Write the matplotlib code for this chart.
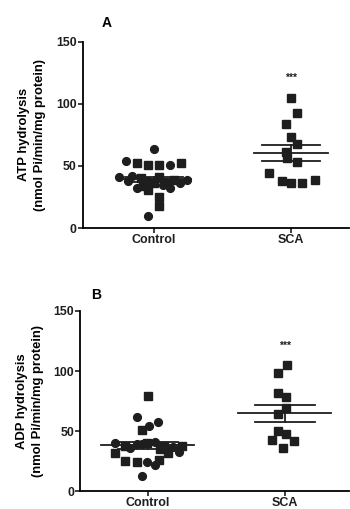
import numpy as np
import matplotlib
matplotlib.use("Agg")
import matplotlib.pyplot as plt

plt.rcParams['font.family'] = ['Liberation Sans', 'DejaVu Sans']
plt.rcParams['font.weight'] = 'bold'

categories = ["Control", "SCA"]

# Panel A: ATP hydrolysis
atp_control = [64, 54, 52, 51, 51, 51, 52, 41, 39,
               42, 40, 38, 41, 37, 39, 38, 36, 35, 34, 36,
               32, 31, 32, 25, 18, 10]
atp_control_dx = [0, -0.20, -0.12, -0.04, 0.04, 0.12, 0.20, -0.25, 0.24,
                  -0.16, -0.09, -0.04, 0.04, 0.09, 0.15, -0.19, 0.0, 0.07, -0.08, 0.19,
                  -0.12, -0.04, 0.12, 0.04, 0.04, -0.04]
atp_control_mk = ['o', 'o', 's', 's', 's', 'o', 's', 'o', 'o',
                  'o', 's', 'o', 's', 'o', 's', 'o', 's', 'o', 's', 'o',
                  'o', 's', 'o', 's', 's', 'o']
atp_sca = [105, 93, 84, 73, 68, 61, 56, 53, 44, 38, 36, 36, 39]
atp_sca_dx = [0.0, 0.04, -0.04, 0.0, 0.04, -0.04, -0.03, 0.04, -0.16, -0.07, 0.0, 0.08, 0.17]

# Panel B: ADP hydrolysis
adp_control = [79, 62, 58, 51, 54,
               40, 38, 39, 40, 41, 38, 37, 38, 36, 35, 39,
               32, 25, 24, 24, 22, 26, 32, 33, 13]
adp_control_dx = [0.0, -0.08, 0.07, -0.04, 0.01,
                  -0.24, -0.17, -0.08, -0.01, 0.05, 0.12, 0.18, 0.25, -0.13, 0.09, -0.04,
                  -0.24, -0.17, -0.08, -0.01, 0.05, 0.08, 0.15, 0.23, -0.04]
adp_control_mk = ['s', 'o', 'o', 's', 'o',
                  'o', 's', 'o', 's', 'o', 's', 'o', 's', 'o', 's', 'o',
                  's', 's', 's', 'o', 'o', 's', 's', 'o', 'o']
adp_sca = [105, 98, 82, 78, 69, 64, 50, 48, 43, 42, 36]
adp_sca_dx = [0.02, -0.05, -0.05, 0.01, 0.01, -0.05, -0.05, 0.01, -0.09, 0.07, -0.01]

yticks = [0, 50, 100, 150]
ylabels = ["ATP hydrolysis\n(nmol Pi/min/mg protein)", "ADP hydrolysis\n(nmol Pi/min/mg protein)"]
panel_letters = ["A", "B"]

fig = plt.figure(figsize=(3.5, 5.09), dpi=100)
axA = fig.add_axes([0.237, 0.552, 0.76, 0.366])
axB = fig.add_axes([0.229, 0.035, 0.768, 0.354])

col = '#1e1e1e'

def draw(ax, ctrl, ctrl_dx, ctrl_mk, sca, sca_dx, xlim, ylabel, letter, mean_w, sem_w, lx, ly):
    for v, dx, m in zip(ctrl, ctrl_dx, ctrl_mk):
        ax.plot(1 + dx, v, marker=m, ms=5.6, color=col, ls='none', mec=col)
    for v, dx in zip(sca, sca_dx):
        ax.plot(2 + dx, v, marker='s', ms=5.8, color=col, ls='none', mec=col)
    for i, data in enumerate([ctrl, sca]):
        x = i + 1
        arr = np.array(data, dtype=float)
        m = arr.mean()
        sem = arr.std(ddof=1) / np.sqrt(len(arr))
        ax.plot([x - mean_w, x + mean_w], [m, m], color=col, lw=1.3, zorder=3)
        ax.plot([x - sem_w, x + sem_w], [m + sem, m + sem], color=col, lw=1.3, zorder=3)
        ax.plot([x - sem_w, x + sem_w], [m - sem, m - sem], color=col, lw=1.3, zorder=3)
        ax.plot([x, x], [m - sem, m + sem], color=col, lw=1.3, zorder=3)
    ax.text(2, 117, "***", ha='center', va='bottom', fontsize=7.5, color=col)
    ax.set_xlim(*xlim)
    ax.set_ylim(0, 150)
    ax.set_yticks(yticks)
    ax.set_yticklabels([str(t) for t in yticks], fontsize=8.8, fontweight='bold')
    ax.set_xticks([1, 2])
    ax.set_xticklabels(categories, fontsize=9, fontweight='bold')
    ax.spines['top'].set_visible(False)
    ax.spines['right'].set_visible(False)
    ax.spines['left'].set_linewidth(1.3)
    ax.spines['bottom'].set_linewidth(1.3)
    ax.tick_params(axis='both', length=3.5, width=1.2, pad=1, colors=col)
    ax.set_ylabel(ylabel, fontsize=9.4, fontweight='bold', labelpad=7, linespacing=1.45)
    ax.text(lx, ly, letter, transform=ax.transAxes, fontsize=10, fontweight='bold',
            ha='center', va='center')

draw(axA, atp_control, atp_control_dx, atp_control_mk, atp_sca, atp_sca_dx,
     (0.486, 2.42), ylabels[0], panel_letters[0], 0.27, 0.21, 0.09, 1.10)
draw(axB, adp_control, adp_control_dx, adp_control_mk, adp_sca, adp_sca_dx,
     (0.504, 2.47), ylabels[1], panel_letters[1], 0.34, 0.22, 0.06, 1.09)

fig.savefig("out.png", dpi=100)
